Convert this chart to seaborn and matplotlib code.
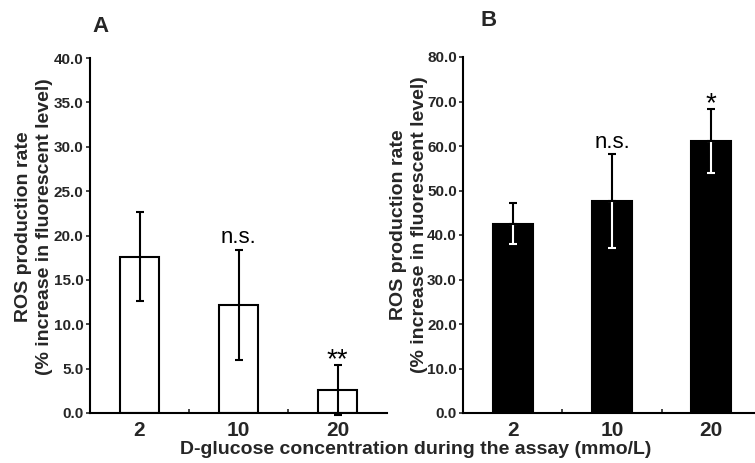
import matplotlib
matplotlib.use("Agg")
import matplotlib.pyplot as plt
import seaborn as sns
import pandas as pd

sns.set_theme(style="white")
plt.rcParams['font.family'] = ['Liberation Sans', 'DejaVu Sans']

categories = ["2", "10", "20"]
a_values = [17.6, 12.2, 2.6]
a_errors = [5.0, 6.2, 2.8]
b_values = [42.5, 47.6, 61.1]
b_errors = [4.6, 10.5, 7.2]
a_marks = ["", "n.s.", "**"]
b_marks = ["", "n.s.", "*"]
a_yticks = [0, 5, 10, 15, 20, 25, 30, 35, 40]
b_yticks = [0, 10, 20, 30, 40, 50, 60, 70, 80]

fig = plt.figure(figsize=(7.55, 4.63), dpi=100)
axA = fig.add_axes([90/755, 1-413/463, 297/755, 355/463])
axB = fig.add_axes([463/755, 1-413/463, 298/755, 356/463])

def panel(ax, values, errors, marks, yticks, fill, letter, letter_xy, label_xy):
    df = pd.DataFrame({"conc": categories, "val": values})
    sns.barplot(data=df, x="conc", y="val", ax=ax, color=fill, edgecolor="black",
                linewidth=1.5, width=0.4, errorbar=None, saturation=1)
    xs = list(range(len(categories)))
    if fill == "black":
        ax.errorbar(xs, values, yerr=[errors, [0]*3], fmt="none", ecolor="white",
                    elinewidth=1.5, capsize=3.2, capthick=1.5, zorder=5)
        ax.errorbar(xs, values, yerr=[[0]*3, errors], fmt="none", ecolor="black",
                    elinewidth=1.5, capsize=3.2, capthick=1.5, zorder=6)
    else:
        ax.errorbar(xs, values, yerr=errors, fmt="none", ecolor="black",
                    elinewidth=1.5, capsize=3.2, capthick=1.5, zorder=6, clip_on=False)
    top = yticks[-1]
    for x, v, e, m in zip(xs, values, errors, marks):
        if m:
            fs = 16 if m == "n.s." else 20
            dy = 0.004*top if m == "n.s." else -0.022*top
            ax.text(x, v + e + dy, m, ha="center", va="bottom", fontsize=fs,
                    color="black")
    ax.set_xlim(-0.5, 2.5)
    ax.set_ylim(0, top)
    ax.set_yticks(yticks)
    ax.set_yticklabels([f"{t:.1f}" for t in yticks], fontsize=11, fontweight="bold")
    ax.set_xticks(xs)
    ax.set_xticklabels(categories, fontsize=15, fontweight="bold")
    ax.tick_params(axis="x", length=0, pad=6)
    ax.set_xticks([0.5, 1.5], minor=True)
    ax.tick_params(axis="x", which="minor", direction="in", length=3, width=1.2, bottom=True)
    ax.tick_params(axis="y", direction="out", length=3, width=1.2, left=True, pad=1.5)
    for s in ["top", "right"]:
        ax.spines[s].set_visible(False)
    for s in ["left", "bottom"]:
        ax.spines[s].set_color("black")
        ax.spines[s].set_linewidth(1.5)
    ax.set_xlabel("")
    ax.set_ylabel("ROS production rate\n(% increase in fluorescent level)",
                  fontsize=14, fontweight="bold", linespacing=1.3)
    ax.yaxis.set_label_coords(label_xy[0], label_xy[1], transform=ax.transAxes)
    fig.text(letter_xy[0]/755, 1-letter_xy[1]/463, letter, fontsize=16,
             fontweight="bold", ha="center", va="center")

panel(axA, a_values, a_errors, a_marks, a_yticks, "white", "A", (100, 27), (-0.125, 0.524))
panel(axB, b_values, b_errors, b_marks, b_yticks, "black", "B", (489, 20), (-0.117, 0.528))

fig.text(416/755, 1-450/463, "D-glucose concentration during the assay (mmo/L)",
         fontsize=14, fontweight="bold", ha="center", va="center")

fig.savefig("out.png", dpi=100)
